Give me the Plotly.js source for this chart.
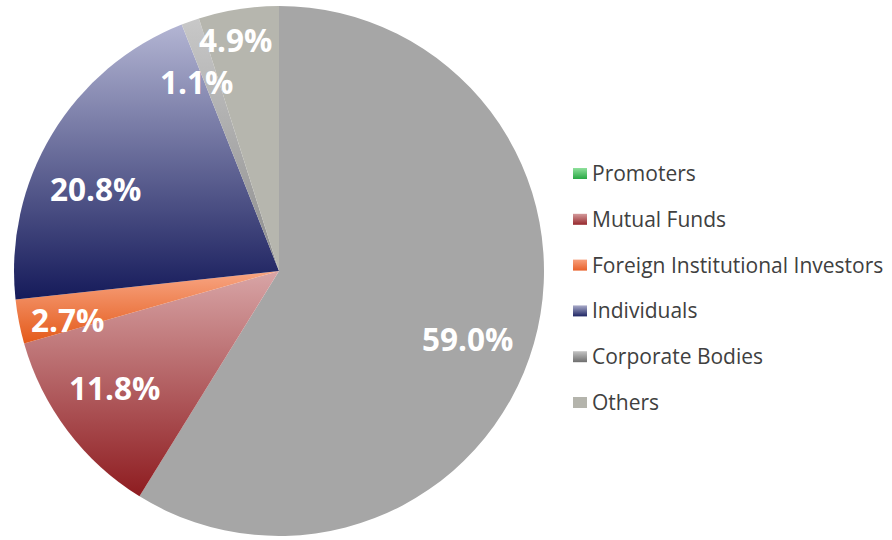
<!DOCTYPE html>
<html>
<head>
<meta charset="utf-8">
<script src="https://cdn.plot.ly/plotly-3.0.1.min.js"></script>
<style>
  html, body { margin: 0; padding: 0; background: #ffffff; }
  #chart { width: 892px; height: 540px; }
</style>
</head>
<body>
<div id="chart"></div>
<script>
// ---- data ----
const categories = ["Promoters", "Mutual Funds", "Foreign Institutional Investors", "Individuals", "Corporate Bodies", "Others"];
const shares = [59.0, 11.8, 2.7, 20.8, 1.1, 4.9];

// ---- styles ----
const sliceColors = ["#a6a6a6", "#c27a7b", "#f27a4c", "#4f5488", "#b9b9b9", "#b6b6ae"];
const gradTop    = [null, "#d8a5a6", "#f8a684", "#b3b5d3", "#c8c8c8", null];
const gradBottom = [null, "#8e1c20", "#e45a1a", "#151a5a", "#8c8c8c", null];
const swatchTop    = ["#8fe09c", "#d49a9b", "#f8a07c", "#a9abc9", "#c4c4c4", "#b4b4ac"];
const swatchBottom = ["#28a844", "#96282c", "#e8602a", "#1e2563", "#6e6e6e", "#b4b4ac"];
const labelRadius = [0.755, 0.76, 0.82, 0.76, 0.78, 0.89];
const labelShiftDeg = [3.8, 1.7, -1.9, -7, -4, -1.8];

const W = 892, H = 540;
const cx = 279, cy = 271, R = 265;

const total = shares.reduce((a, b) => a + b, 0);
const annotations = [];
let cum = 0;
shares.forEach((v, i) => {
  const mid = (cum + v / 2) / total * 360 + labelShiftDeg[i];
  cum += v;
  const t = mid * Math.PI / 180;
  const px = cx + R * labelRadius[i] * Math.sin(t);
  const py = cy - R * labelRadius[i] * Math.cos(t);
  annotations.push({
    text: v.toFixed(1) + "%",
    x: px / W, y: 1 - py / H, xref: "paper", yref: "paper",
    xanchor: "center", yanchor: "middle", showarrow: false,
    font: { family: "Open Sans", size: 31.5, color: "#ffffff", weight: 700 }
  });
});

// manual legend
const shapes = [];
const legX = 573, legY0 = 173, legStep = 45.8;
categories.forEach((c, i) => {
  const y = legY0 + i * legStep;
  shapes.push({
    type: "rect", xref: "paper", yref: "paper",
    x0: legX / W, x1: (legX + 14) / W,
    y0: 1 - (y + 6) / H, y1: 1 - (y - 5) / H,
    fillcolor: swatchBottom[i], line: { width: 0 }
  });
  annotations.push({
    text: c, x: (legX + 17) / W, y: 1 - y / H, xref: "paper", yref: "paper",
    xanchor: "left", yanchor: "middle", showarrow: false,
    font: { family: "Open Sans", size: 21, color: "#404040" }
  });
});

const trace = {
  type: "pie",
  labels: categories,
  values: shares,
  sort: false,
  direction: "clockwise",
  rotation: 0,
  textinfo: "none",
  hoverinfo: "label+value",
  marker: { colors: sliceColors, line: { width: 0 } },
  domain: { x: [(cx - R) / W, (cx + R) / W], y: [1 - (cy + R) / H, 1 - (cy - R) / H] },
  showlegend: false
};

const layout = {
  width: W, height: H,
  margin: { l: 0, r: 0, t: 0, b: 0 },
  paper_bgcolor: "#ffffff",
  showlegend: false,
  annotations: annotations,
  shapes: shapes
};

function makeGrad(defs, ns, id, top, bottom) {
  const g = document.createElementNS(ns, "linearGradient");
  g.setAttribute("id", id);
  g.setAttribute("x1", "0"); g.setAttribute("y1", "0");
  g.setAttribute("x2", "0"); g.setAttribute("y2", "1");
  const s1 = document.createElementNS(ns, "stop");
  s1.setAttribute("offset", "0"); s1.setAttribute("stop-color", top);
  const s2 = document.createElementNS(ns, "stop");
  s2.setAttribute("offset", "1"); s2.setAttribute("stop-color", bottom);
  g.appendChild(s1); g.appendChild(s2);
  defs.appendChild(g);
}

Plotly.newPlot("chart", [trace], layout, { displayModeBar: false, staticPlot: true }).then(() => {
  const svg = document.querySelector("#chart svg.main-svg");
  const ns = "http://www.w3.org/2000/svg";
  let defs = svg.querySelector("defs");
  if (!defs) { defs = document.createElementNS(ns, "defs"); svg.insertBefore(defs, svg.firstChild); }
  document.querySelectorAll("#chart .slice path.surface").forEach((p, i) => {
    if (!gradTop[i]) return;
    makeGrad(defs, ns, "sliceGrad" + i, gradTop[i], gradBottom[i]);
    p.style.fill = "url(#sliceGrad" + i + ")";
  });
  document.querySelectorAll("#chart .shapelayer path").forEach((p, i) => {
    if (i >= categories.length) return;
    makeGrad(defs, ns, "swGrad" + i, swatchTop[i], swatchBottom[i]);
    p.style.fill = "url(#swGrad" + i + ")";
  });
});
</script>
</body>
</html>
